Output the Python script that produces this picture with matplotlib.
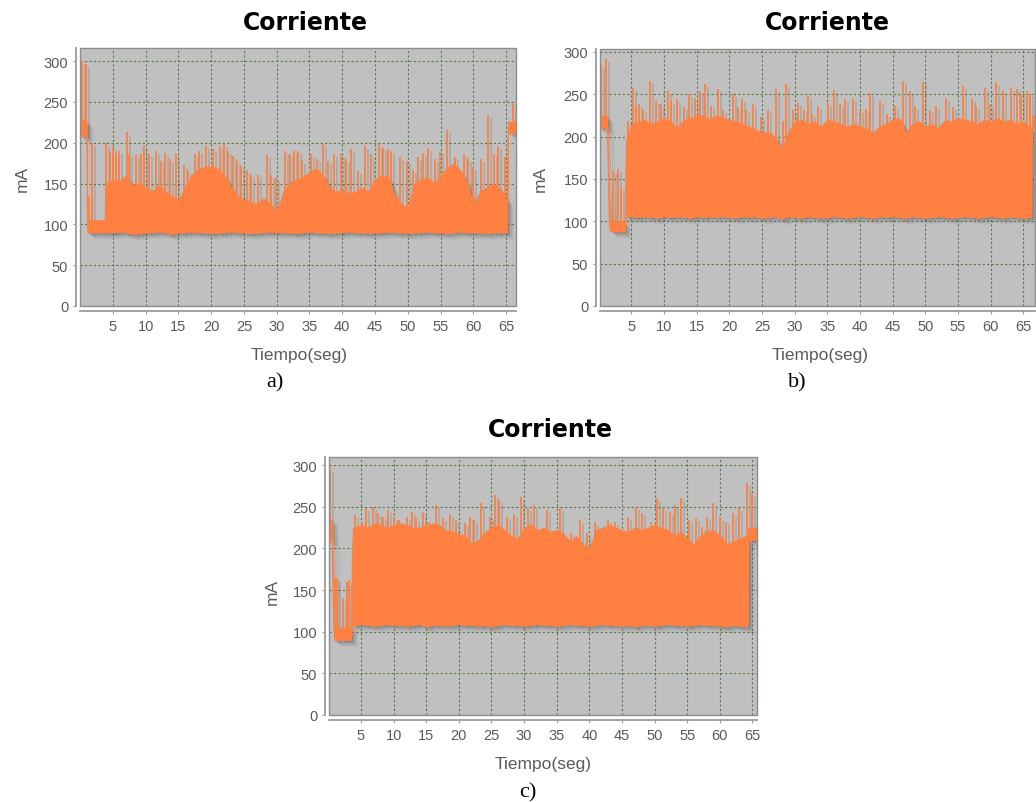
import numpy as np
import matplotlib
matplotlib.use("Agg")
import matplotlib.pyplot as plt
from matplotlib import transforms
from matplotlib.patches import Rectangle

W, H, DPI = 1036, 803, 100

x_ticks = [5, 10, 15, 20, 25, 30, 35, 40, 45, 50, 55, 60, 65]
y_ticks = [0, 50, 100, 150, 200, 250, 300]
title_text = "Corriente"
x_label = "Tiempo(seg)"
y_label = "mA"

SECS_4_65 = [4, 5, 6, 7, 8, 9, 10, 11, 12, 13, 14, 15, 16, 17, 18, 19, 20, 21, 22, 23,
             24, 25, 26, 27, 28, 29, 30, 31, 32, 33, 34, 35, 36, 37, 38, 39, 40, 41, 42, 43,
             44, 45, 46, 47, 48, 49, 50, 51, 52, 53, 54, 55, 56, 57, 58, 59, 60, 61, 62, 63,
             64, 65]

# ---- run a): lower / upper edge of the dense current band (s, mA) ----
a_t = [0.0, 0.98, 1.02, 1.1, 3.75, 3.85] + SECS_4_65 + [65.15, 65.25, 66.5]
a_low = [208, 208, 125, 90, 90, 90,
         90, 90, 91, 90, 88, 89, 90, 90, 91, 90,
         88, 90, 90, 91, 90, 90, 89, 90, 90, 91,
         90, 90, 89, 90, 90, 91, 90, 90, 90, 89,
         90, 91, 90, 90, 89, 90, 90, 91, 90, 90,
         89, 90, 90, 91, 90, 90, 89, 90, 90, 91,
         90, 90, 89, 90, 91, 90, 90, 90, 89, 90,
         90, 90,
         90, 212, 212]
a_top = [228, 228, 210, 105, 105, 150,
         150, 155, 152, 160, 148, 150, 145, 140, 148, 140,
         135, 130, 145, 160, 168, 170, 172, 168, 160, 145,
         135, 130, 128, 125, 132, 125, 115, 140, 152, 155,
         158, 165, 168, 160, 145, 140, 142, 138, 140, 145,
         140, 155, 160, 158, 135, 125, 120, 150, 155, 158,
         150, 160, 170, 175, 165, 150, 125, 140, 145, 150,
         145, 130,
         130, 226, 226]
a_spikes = [(0.25, 300), (0.9, 297), (1.4, 135), (1.9, 200), (3.9, 200), (4.5, 190),
            (5.0, 195), (5.5, 186), (6.0, 190), (7.1, 213), (7.5, 186), (8.6, 185),
            (9.3, 186), (9.8, 196), (10.6, 186), (11.6, 190), (12.4, 178), (12.9, 188),
            (13.7, 180), (14.7, 186), (15.9, 173), (16.4, 165), (17.5, 186), (18.2, 190),
            (19.2, 196), (20.3, 192), (21.3, 196), (22.0, 198), (22.6, 190), (23.3, 184),
            (24.0, 178), (24.6, 172), (25.4, 167), (26.1, 161), (27.1, 161), (28.5, 185),
            (29.2, 160), (29.9, 157), (31.2, 190), (32.0, 186), (32.6, 190), (33.2, 190),
            (33.8, 178), (35.3, 186), (36.1, 180), (37.0, 198), (37.8, 178), (38.8, 186),
            (39.8, 186), (40.6, 180), (41.4, 192), (42.4, 165), (43.5, 196), (44.4, 186),
            (45.6, 198), (46.2, 194), (47.0, 192), (47.5, 190), (48.8, 182), (49.8, 178),
            (50.8, 167), (51.6, 182), (52.3, 188), (53.1, 194), (54.1, 180), (54.9, 190),
            (55.9, 216), (57.2, 182), (58.5, 186), (59.2, 180), (60.0, 170), (61.2, 180),
            (62.3, 234), (63.1, 186), (63.8, 196), (64.8, 182), (66.1, 247)]

# ---- run b) ----
b_t = [0.2, 1.25, 1.4, 1.55, 1.8, 4.0, 4.15] + SECS_4_65[1:] + [66, 66.25, 66.35, 66.8]
b_low = [210, 210, 150, 95, 88, 88, 105,
         106, 105, 106, 105, 104, 106, 105, 106, 105, 104,
         106, 105, 106, 105, 106, 105, 104, 106, 105, 106,
         104, 105, 106, 103, 106, 105, 104, 106, 105, 104,
         105, 106, 105, 104, 105, 106, 105, 104, 106, 105,
         106, 105, 104, 106, 105, 104, 105, 106, 105, 104,
         105, 106, 105, 104, 105, 106, 105, 104, 106, 105,
         104, 105,
         105, 210, 210]
b_top = [225, 225, 210, 140, 100, 100, 195,
         215, 218, 220, 215, 218, 222, 218, 210, 220, 222,
         225, 225, 220, 225, 222, 220, 218, 215, 212, 208,
         205, 205, 200, 185, 205, 218, 220, 215, 218, 212,
         220, 218, 215, 212, 215, 212, 210, 205, 212, 215,
         220, 222, 205, 215, 218, 212, 215, 210, 220, 218,
         222, 220, 218, 215, 220, 218, 222, 218, 220, 215,
         218, 210,
         210, 225, 225]
b_spikes = [(0.3, 285), (1.1, 292), (2.2, 160), (2.9, 162), (3.4, 140), (4.5, 219),
            (5.2, 258), (5.7, 235), (6.2, 238), (6.8, 231), (7.9, 266), (8.7, 242),
            (9.6, 238), (10.6, 254), (11.1, 242), (12.0, 245), (13.0, 235), (13.9, 250),
            (14.8, 246), (15.5, 254), (16.2, 262), (17.2, 236), (18.3, 256), (19.0, 231),
            (20.5, 250), (21.3, 235), (22.0, 244), (22.6, 231), (23.6, 238), (24.9, 223),
            (25.9, 232), (27.2, 256), (28.2, 219), (28.7, 262), (29.7, 231), (30.5, 240),
            (31.5, 231), (32.0, 248), (32.6, 227), (33.6, 235), (35.1, 240), (36.1, 255),
            (36.9, 238), (37.7, 244), (38.9, 244), (40.0, 231), (41.0, 233), (41.5, 252),
            (43.0, 242), (44.1, 227), (45.3, 236), (46.6, 266), (47.6, 254), (48.4, 236),
            (49.7, 264), (50.7, 231), (51.7, 236), (52.5, 215), (53.2, 246), (54.3, 235),
            (55.8, 260), (57.1, 244), (57.8, 236), (59.1, 258), (59.9, 238), (60.8, 264),
            (61.9, 254), (63.2, 258), (64.1, 256), (64.7, 250), (65.5, 254), (66.0, 250)]

# ---- run c) ----
c_t = [0.1, 0.55, 0.65, 0.8, 0.9, 3.45, 3.6, 3.75] + SECS_4_65[:-1] + [64.3, 64.4, 65.7]
c_low = [208, 208, 140, 95, 90, 90, 100, 108,
         108, 109, 108, 107, 108, 109, 108, 108, 107, 108,
         109, 106, 108, 108, 107, 108, 109, 108, 108, 107,
         108, 106, 108, 109, 108, 108, 107, 108, 109, 108,
         108, 107, 108, 109, 108, 108, 107, 108, 109, 108,
         108, 107, 108, 106, 108, 108, 107, 108, 109, 108,
         108, 107, 108, 109, 108, 108, 107, 106, 108, 107,
         106,
         108, 210, 210]
c_top = [235, 235, 210, 150, 105, 105, 190, 225,
         225, 228, 225, 230, 228, 225, 228, 230, 228, 225,
         225, 228, 230, 228, 222, 220, 218, 215, 205, 210,
         220, 225, 228, 222, 215, 212, 225, 228, 222, 225,
         220, 222, 218, 208, 215, 205, 200, 222, 225, 228,
         225, 222, 220, 225, 222, 225, 228, 225, 222, 215,
         220, 212, 205, 215, 220, 222, 215, 205, 208, 212,
         215,
         215, 225, 225]
c_spikes = [(0.3, 295), (1.0, 165), (1.3, 165), (2.2, 140), (2.9, 160), (3.2, 162),
            (4.1, 240), (5.1, 232), (5.8, 248), (6.8, 250), (7.6, 242), (8.3, 238),
            (9.1, 246), (10.0, 238), (10.8, 234), (12.0, 238), (12.8, 244), (13.5, 236),
            (14.5, 244), (15.5, 232), (16.5, 252), (17.5, 236), (18.7, 240), (19.5, 234),
            (20.9, 230), (21.7, 238), (22.4, 234), (23.4, 254), (24.7, 238), (25.6, 264),
            (26.1, 258), (27.4, 238), (28.4, 240), (29.6, 262), (30.6, 248), (31.5, 252),
            (33.5, 246), (35.5, 248), (37.2, 218), (38.5, 234), (39.7, 218), (40.9, 232),
            (42.9, 234), (43.9, 232), (45.9, 238), (47.1, 250), (48.1, 242), (49.4, 232),
            (50.3, 260), (51.3, 248), (52.3, 244), (53.1, 252), (54.1, 260), (55.3, 234),
            (56.3, 236), (57.3, 226), (58.0, 238), (59.0, 254), (60.0, 238), (61.0, 232),
            (62.0, 242), (63.0, 248), (64.2, 279), (65.0, 265)]

ORANGE = "#ff8040"
SHADOW = "#5e5e5e"
PLOT_BG = "#c0c0c0"
GRID = "#5b7a4a"
AXIS_GRAY = "#9a9a9a"
TEXT_GRAY = "#5a5a5a"

fig = plt.figure(figsize=(W / DPI, H / DPI), dpi=DPI)
fig.patch.set_facecolor("white")


def px_axes(x0, y0, x1, y1):
    return fig.add_axes([x0 / W, 1 - y1 / H, (x1 - x0) / W, (y1 - y0) / H])


def draw_panel(rect, xlim, ylim, t, low, top, spikes,
               title_xy, xlab_xy, ylab_xy, letter, letter_xy):
    ax = px_axes(*rect)
    ax.set_facecolor(PLOT_BG)
    ax.set_xlim(*xlim)
    ax.set_ylim(*ylim)
    ax.set_axisbelow(True)
    ax.grid(True, color=GRID, ls=(0, (2, 2)), lw=0.8)

    t = np.asarray(t, float)
    low = np.asarray(low, float)
    top = np.asarray(top, float)
    st = np.array([s[0] for s in spikes], float)
    sv = np.array([s[1] for s in spikes], float)
    base = np.interp(st, t, low)

    # soft drop shadow under the series
    for dx, alpha in ((6, 0.12), (4, 0.2), (2, 0.25)):
        tr = transforms.offset_copy(ax.transData, fig=fig, x=dx, y=-dx, units="dots")
        ax.fill_between(t, low, top, color=SHADOW, alpha=alpha, lw=0,
                        transform=tr, zorder=1.0)
    tr = transforms.offset_copy(ax.transData, fig=fig, x=3, y=-3, units="dots")
    ax.vlines(st, base, sv, color=SHADOW, alpha=0.22, lw=1.3, transform=tr, zorder=1.0)

    ax.fill_between(t, low, top, facecolor=ORANGE, edgecolor=ORANGE, lw=0.6, zorder=1.5)
    ax.vlines(st, base, sv, color=ORANGE, lw=1.3, zorder=1.6)

    ax.add_patch(Rectangle((0, 0), 1, 1, transform=ax.transAxes, fill=False,
                           edgecolor="#8c8c8c", lw=1.0, clip_on=False, zorder=5))

    for s in ("top", "right"):
        ax.spines[s].set_visible(False)
    ax.spines["left"].set_position(("outward", 3))
    ax.spines["bottom"].set_position(("outward", 3.6))
    for s in ("left", "bottom"):
        ax.spines[s].set_color(AXIS_GRAY)
        ax.spines[s].set_linewidth(1.3)
    ax.set_xticks(x_ticks)
    ax.set_yticks(y_ticks)
    ax.tick_params(direction="out", length=2.5, width=0.8, color=AXIS_GRAY,
                   labelcolor=TEXT_GRAY, labelsize=10.5, pad=3)
    for lab in ax.get_xticklabels() + ax.get_yticklabels():
        lab.set_fontfamily("Liberation Sans")

    fig.text(title_xy[0] / W, 1 - title_xy[1] / H, title_text, ha="center", va="center",
             fontsize=17, fontweight="bold", family="DejaVu Sans", color="black")
    fig.text(xlab_xy[0] / W, 1 - xlab_xy[1] / H, x_label, ha="center", va="center",
             fontsize=12.5, family="Liberation Sans", color=TEXT_GRAY)
    fig.text(ylab_xy[0] / W, 1 - ylab_xy[1] / H, y_label, ha="center", va="center",
             rotation=90, fontsize=12.5, family="Liberation Sans", color=TEXT_GRAY)
    fig.text(letter_xy[0] / W, 1 - letter_xy[1] / H, letter, ha="center", va="center",
             fontsize=16, family="Liberation Serif", color="black")
    return ax


draw_panel((80, 49, 516, 307), (0.0, 66.5), (0, 316),
           a_t, a_low, a_top, a_spikes,
           (305, 23), (299, 356), (22, 179), "a)", (275, 383))
draw_panel((600, 50, 1035, 307), (0.2, 66.8), (0, 303.5),
           b_t, b_low, b_top, b_spikes,
           (827, 23), (820, 356), (540, 179), "b)", (797, 383))
draw_panel((329, 458, 757, 716), (0.1, 65.7), (0, 309.7),
           c_t, c_low, c_top, c_spikes,
           (550, 430), (543, 765), (272, 592), "c)", (528, 793))

fig.savefig("out.png", dpi=DPI, facecolor="white")
